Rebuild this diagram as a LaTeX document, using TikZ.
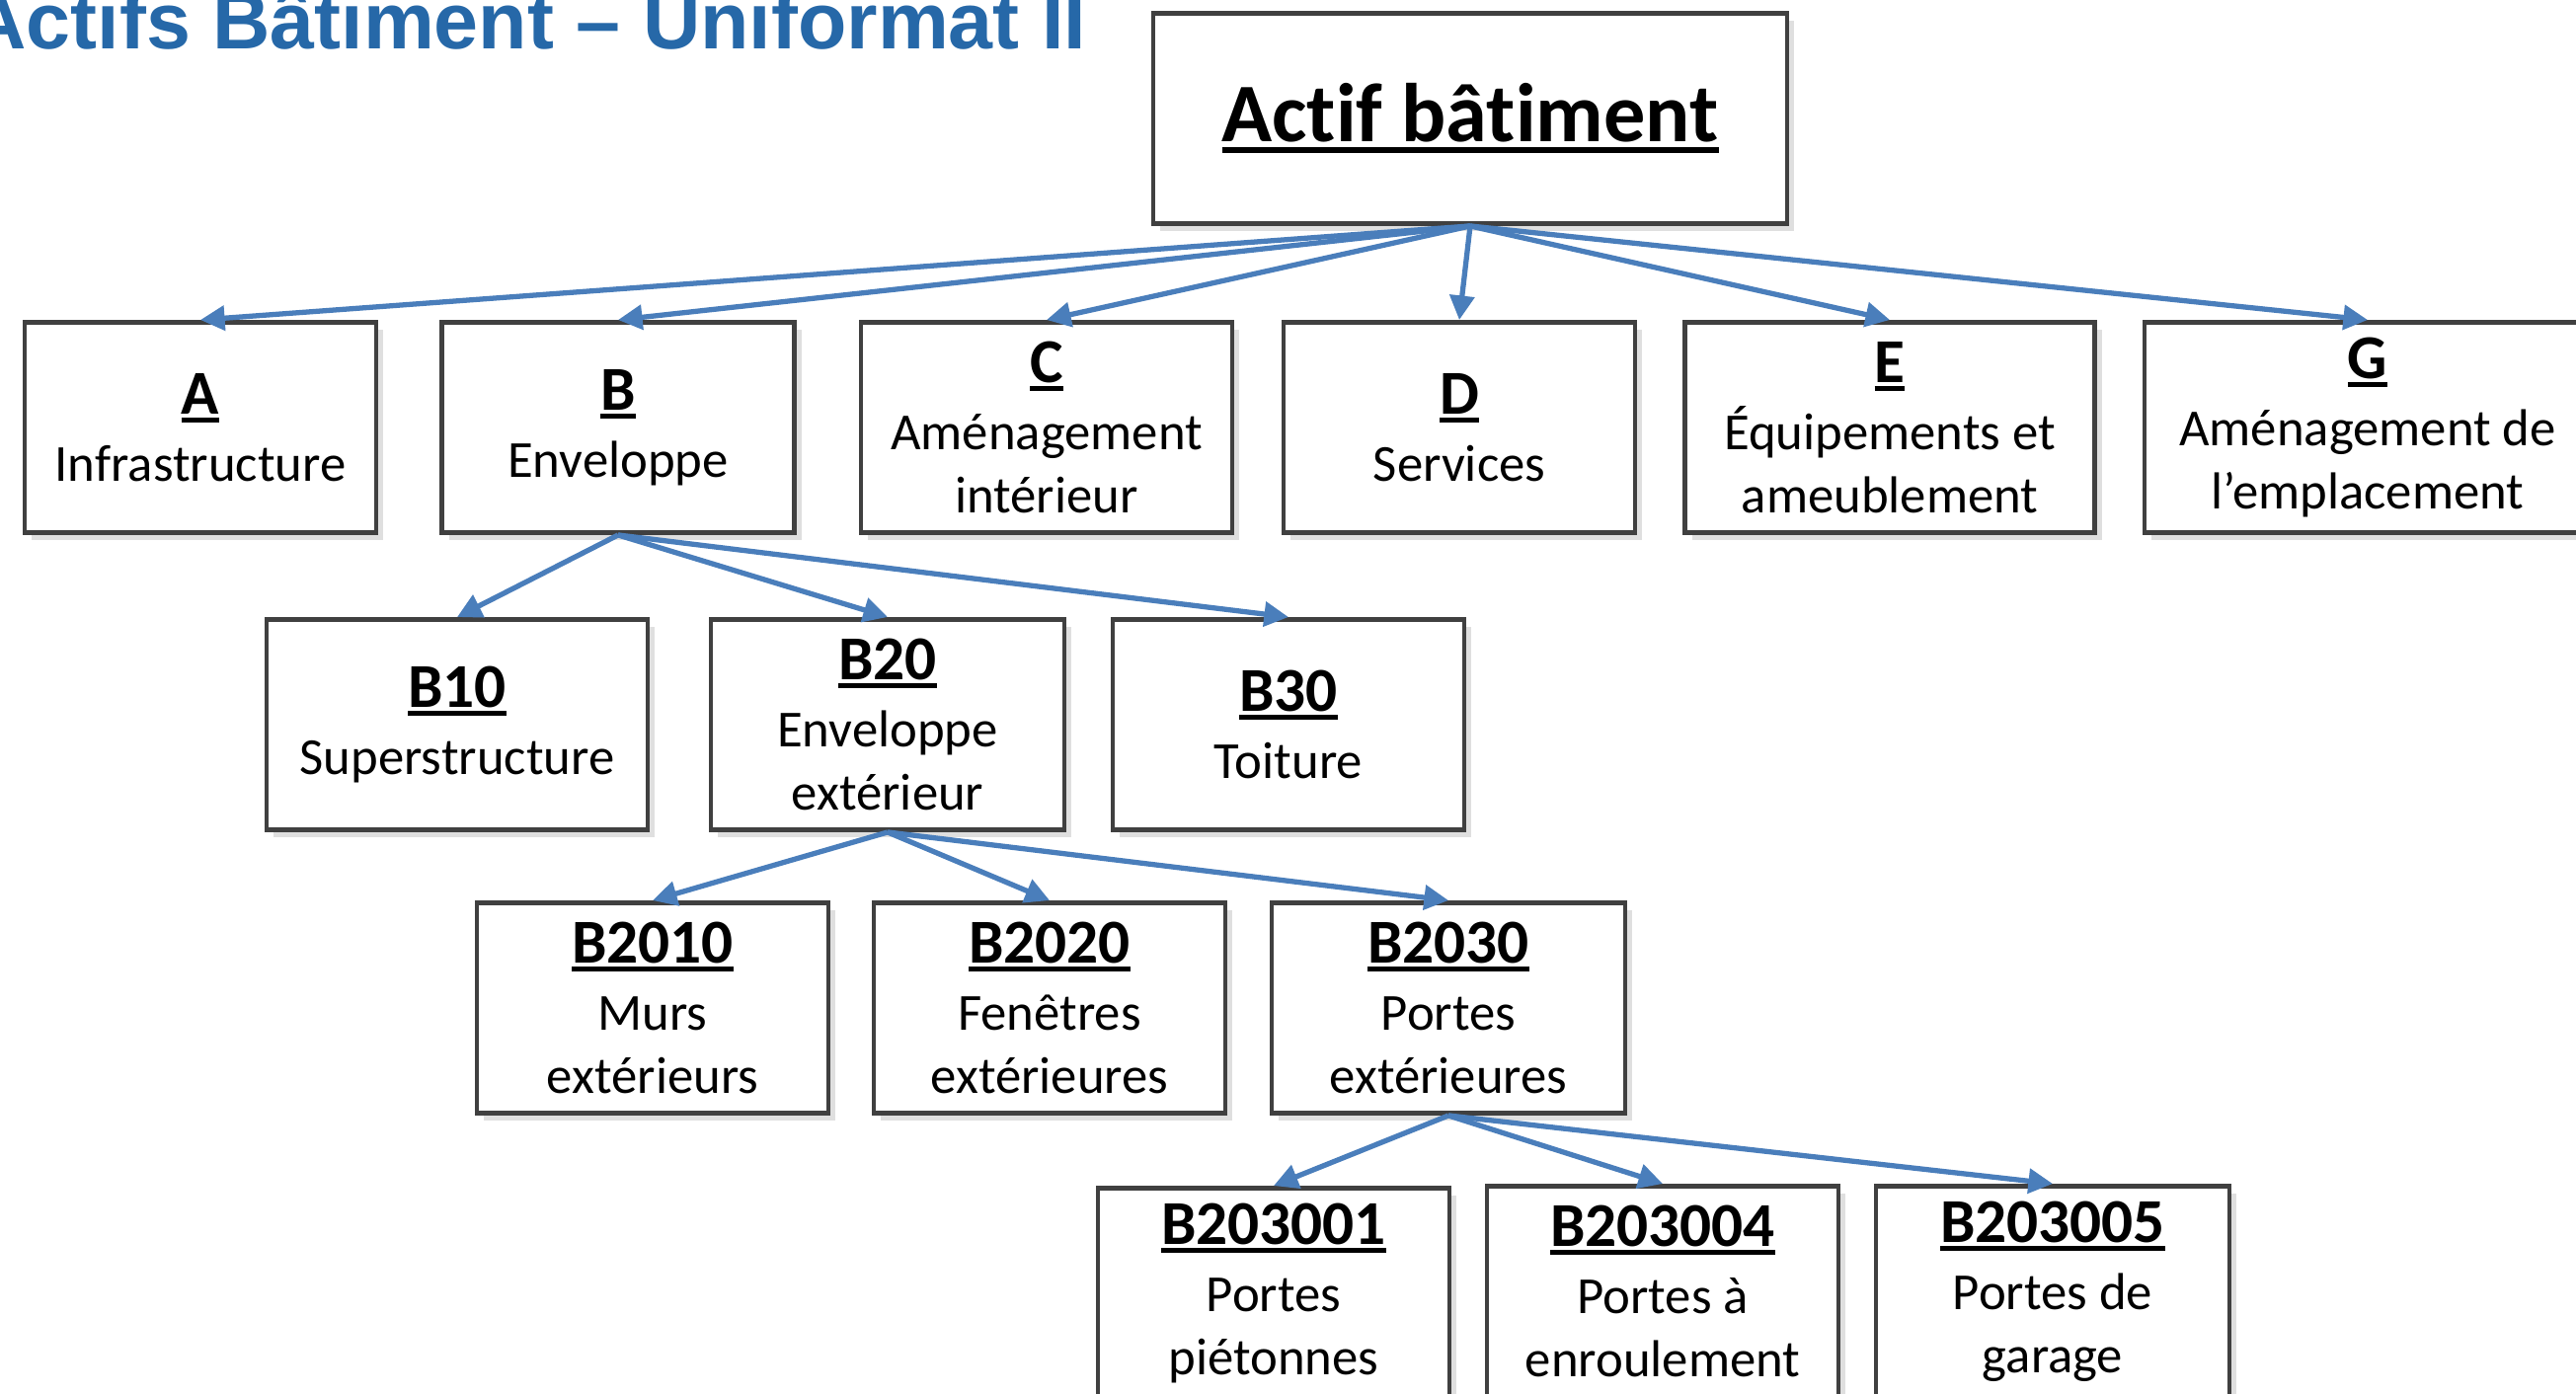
\documentclass[tikz,border=0pt]{standalone}
\usepackage{fontspec}
\setmainfont{Carlito}[Ligatures=NoCommon]
\newfontfamily\titlefont{Liberation Sans}
\usetikzlibrary{arrows.meta,shadows}
\definecolor{linkblue}{RGB}{74,126,187}
\definecolor{boxgray}{RGB}{64,64,64}
\definecolor{titleblue}{RGB}{38,104,168}
% bold underlined code on the first line of a box
\newcommand{\ucode}[2][18]{{\fontsize{#1}{#1}\selectfont\bfseries
  \setbox0\hbox{#2}\rlap{\rule[-0.14em]{\wd0}{0.08em}}\box0}}
\begin{document}
\begin{tikzpicture}[
  box/.style={draw=boxgray, line width=1.4pt, fill=white, inner sep=0pt,
    minimum height=2.13cm, align=center, font=\fontsize{15}{18.2}\selectfont,
    drop shadow={shadow xshift=2pt, shadow yshift=-2pt, opacity=.25}},
  link/.style={color=linkblue, line width=1.5pt, -{Triangle[length=7pt,width=7pt]}}]
\useasboundingbox (0,0) rectangle (26.09,-14.12);
\node[anchor=base east, inner sep=0pt, text=titleblue,
  font=\titlefont\bfseries\fontsize{23}{27}\selectfont] (title) at (11.01,-.50)
  {Actifs Bâtiment – Uniformat II};
\node[box, minimum width=6.42cm] (top) at (14.89,-1.20) {\ucode[24]{Actif bâtiment}};
% level 1
\node[box, minimum width=3.56cm] (A) at (2.03,-4.33) {\ucode{A}\\[1.2pt]Infrastructure};
\node[box, minimum width=3.57cm] (B) at (6.26,-4.33) {\ucode{B}\\[1.2pt]Enveloppe};
\node[box, minimum width=3.76cm] (C) at (10.60,-4.33) {\ucode{C}\\[1.2pt]Aménagement\\intérieur};
\node[box, minimum width=3.56cm] (D) at (14.78,-4.33) {\ucode{D}\\[1.2pt]Services};
\node[box, minimum width=4.15cm] (E) at (19.14,-4.33) {\ucode{E}\\[1.2pt]Équipements et\\ameublement};
\node[box, minimum width=4.52cm] (G) at (23.98,-4.33) {\ucode{G}\\[1.2pt]Aménagement de\\l’emplacement};
% level 2
\node[box, minimum width=3.86cm] (B10) at (4.63,-7.34) {\ucode{B10}\\[1.2pt]Superstructure};
\node[box, minimum width=3.58cm] (B20) at (8.99,-7.34) {\ucode{B20}\\[1.2pt]Enveloppe\\extérieur};
\node[box, minimum width=3.56cm] (B30) at (13.05,-7.34) {\ucode{B30}\\[1.2pt]Toiture};
% level 3
\node[box, minimum width=3.56cm] (B2010) at (6.61,-10.21) {\ucode{B2010}\\[1.2pt]Murs\\extérieurs};
\node[box, minimum width=3.56cm] (B2020) at (10.63,-10.21) {\ucode{B2020}\\[1.2pt]Fenêtres\\extérieures};
\node[box, minimum width=3.58cm] (B2030) at (14.67,-10.21) {\ucode{B2030}\\[1.2pt]Portes\\extérieures};
% level 4
\node[box, minimum width=3.56cm] (B203001) at (12.90,-13.10) {\ucode{B203001}\\[1.2pt]Portes\\piétonnes};
\node[box, minimum width=3.56cm] (B203004) at (16.84,-13.08) {\ucode{B203004}\\[1.2pt]Portes à\\enroulement};
\node[box, minimum width=3.58cm] (B203005) at (20.79,-13.08) {\ucode{B203005}\\[1.2pt]Portes de\\garage};
\path[link]
(top.south) edge (A.north) edge (B.north) edge (C.north)
  edge (D.north) edge (E.north) edge (G.north)
(B.south) edge (B10.north) edge (B20.north) edge (B30.north)
(B20.south) edge (B2010.north) edge (B2020.north) edge (B2030.north)
(B2030.south) edge (B203001.north) edge (B203004.north) edge (B203005.north);
\end{tikzpicture}
\end{document}
